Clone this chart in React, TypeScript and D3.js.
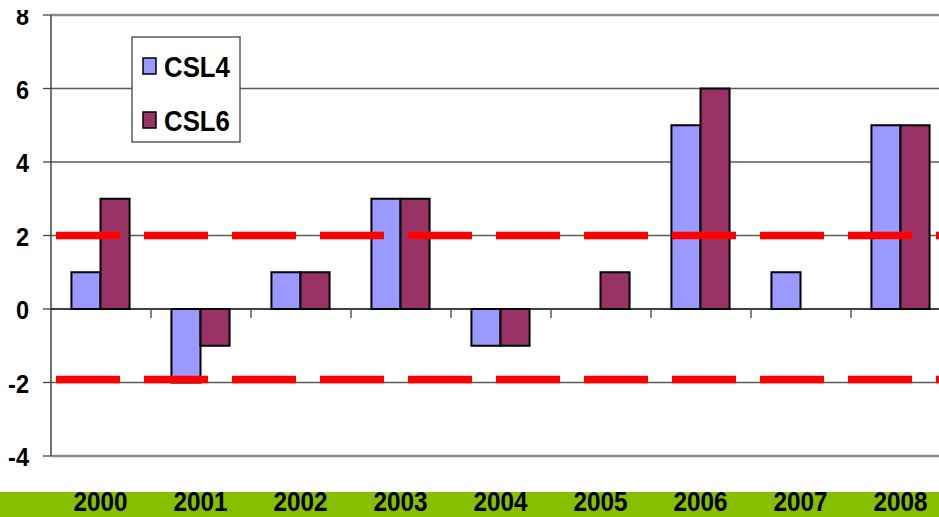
import React from "react";
import * as d3 from "d3";

const years = ["2000", "2001", "2002", "2003", "2004", "2005", "2006", "2007", "2008"];
const csl4 = [1, -2, 1, 3, -1, 0, 5, 1, 5];
const csl6 = [3, -1, 1, 3, -1, 1, 6, 0, 5];
const seriesNames = ["CSL4", "CSL6"];
const seriesColors = ["#9999FF", "#993366"];
const yTicks = [8, 6, 4, 2, 0, -2, -4];
const thresholds = [2, -1.92];

const W = 939;
const H = 517;

export default function App() {
  const y = d3.scaleLinear().domain([-4, 8]).range([456, 15]);
  const x = d3.scaleBand().domain(years).range([51, 951]).paddingInner(0).paddingOuter(0);
  const inner = d3.scaleBand().domain(seriesNames).range([0, x.bandwidth()]).paddingInner(0).paddingOuter(0.72);
  const seriesVals = [csl4, csl6];
  const font = "'Liberation Sans', Arial, sans-serif";

  return (
    <svg width={W} height={H} style={{ position: "absolute", left: 0, top: 0, background: "#fff" }}>
      <defs>
        <clipPath id="ylabClip">
          <rect x={0} y={10} width={45} height={H} />
        </clipPath>
      </defs>
      {/* gridlines */}
      {yTicks.map((t) => {
        const edge = t === 8 || t === -4;
        if (t === 0) return null;
        return (
          <line key={"g" + t} x1={51} x2={W} y1={y(t)} y2={y(t)}
            stroke={edge ? "#8a8a8a" : "#5a5a5a"} strokeWidth={edge ? 2.5 : 1.3} />
        );
      })}
      {/* y axis */}
      <line x1={51} x2={51} y1={y(8)} y2={y(-4)} stroke="#444" strokeWidth={1.5} />
      <g clipPath="url(#ylabClip)">
        {yTicks.map((t) => (
          <text key={"yl" + t} transform={`translate(29,${y(t) + 10}) scale(0.94,1)`} textAnchor="end"
            fontFamily={font} fontWeight="bold" fontSize={25} fill="#000">
            {t}
          </text>
        ))}
      </g>
      {yTicks.map((t) => (
        <line key={"t" + t} x1={43} x2={51} y1={y(t)} y2={y(t)} stroke="#444" strokeWidth={1.3} />
      ))}
      {/* bars */}
      {seriesVals.map((vals, si) =>
        vals.map((v, i) =>
          v === 0 ? null : (
            <rect key={`b${si}-${i}`}
              x={(x(years[i]) as number) + (inner(seriesNames[si]) as number) - 0.5}
              y={y(Math.max(0, v))}
              width={inner.bandwidth()}
              height={Math.abs(y(v) - y(0))}
              fill={seriesColors[si]} stroke="#000" strokeWidth={2} />
          )
        )
      )}
      {/* zero line and category ticks */}
      <line x1={51} x2={W} y1={y(0)} y2={y(0)} stroke="#000" strokeWidth={1.3} />
      {years.map((yr, i) => (
        <line key={"ct" + i} x1={(x(yr) as number) + x.bandwidth()} x2={(x(yr) as number) + x.bandwidth()}
          y1={y(0)} y2={y(0) + 9} stroke="#444" strokeWidth={1.3} />
      ))}
      {/* red dashed threshold lines */}
      {thresholds.map((t) => (
        <line key={"r" + t} x1={56} x2={W + 20} y1={y(t)} y2={y(t)} stroke="#FF0000" strokeWidth={7.5}
          strokeDasharray="64 24" />
      ))}
      {/* legend */}
      <rect x={132} y={37} width={108} height={105} fill="#fff" stroke="#444" strokeWidth={1.3} />
      {seriesNames.map((n, i) => (
        <g key={"l" + n}>
          <rect x={143} y={58 + i * 54} width={13} height={16} fill={seriesColors[i]} stroke="#000" strokeWidth={1.5} />
          <text transform={`translate(164,${77 + i * 54}) scale(0.86,1)`} fontFamily={font} fontWeight="bold"
            fontSize={30} fill="#000">{n}</text>
        </g>
      ))}
      {/* green strip */}
      <rect x={0} y={492} width={W} height={H - 492} fill="#86BE00" />
      {years.map((yr) => (
        <text key={"x" + yr} transform={`translate(${(x(yr) as number) + x.bandwidth() / 2 - 0.5},511) scale(0.9,1)`}
          textAnchor="middle" fontFamily={font} fontWeight="bold" fontSize={27} fill="#000">
          {yr}
        </text>
      ))}
    </svg>
  );
}
